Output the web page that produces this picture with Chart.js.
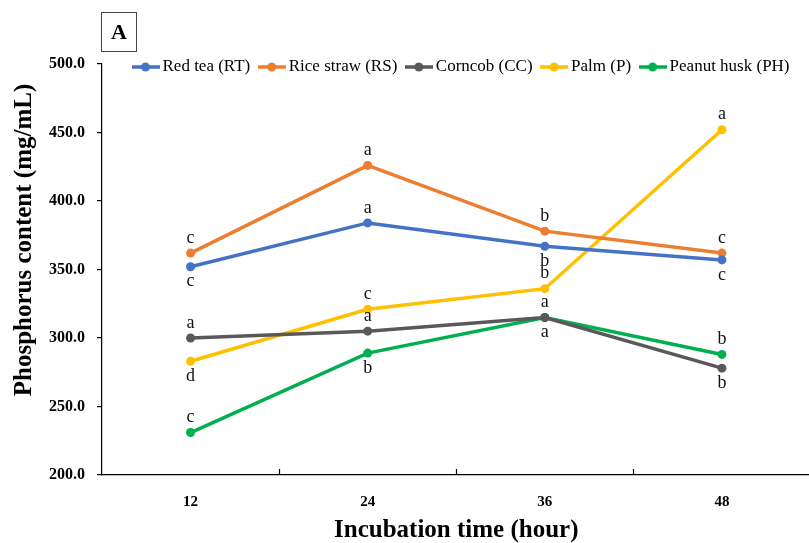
<!DOCTYPE html>
<html>
<head>
<meta charset="utf-8">
<script src="https://cdn.jsdelivr.net/npm/chart.js@4/dist/chart.umd.min.js"></script>
<style>
  html, body { margin: 0; padding: 0; background: #fff; overflow: hidden; }
  #wrap { position: absolute; left: 0; top: 0; width: 815px; height: 543px; }
</style>
</head>
<body>
<div id="wrap"><canvas id="phChart" width="815" height="543"></canvas></div>
<script>
// Data
const hours = ["12", "24", "36", "48"];
const seriesNames = ["Red tea (RT)", "Rice straw (RS)", "Corncob (CC)", "Palm (P)", "Peanut husk (PH)"];
const redTea = [352, 384, 367, 357];
const riceStraw = [362, 426, 378, 362];
const corncob = [300, 305, 315, 278];
const palm = [283, 321, 336, 452];
const peanutHusk = [231, 289, 315, 288];
const yTicks = [200, 250, 300, 350, 400, 450, 500];

// significance letters, and whether they sit above (1) or below (-1) the point
const letters = [
  ["c", "a", "b", "c"],
  ["c", "a", "b", "c"],
  ["a", "a", "a", "b"],
  ["d", "c", "b", "a"],
  ["c", "b", "a", "b"]
];
const letterSide = [
  [-1, 1, -1, -1],
  [1, 1, 1, 1],
  [1, 1, -1, -1],
  [-1, 1, 1, 1],
  [1, -1, 1, 1]
];

const colors = ["#4472C4", "#ED7D31", "#595959", "#FFC000", "#00B050"];
const serif = "'Liberation Serif', 'DejaVu Serif', serif";

// legend marker: short line with a dot
function makeMarker(color) {
  const c = document.createElement("canvas");
  c.width = 28;
  c.height = 10;
  const g = c.getContext("2d");
  g.strokeStyle = color;
  g.lineWidth = 3.5;
  g.beginPath();
  g.moveTo(0, 5);
  g.lineTo(28, 5);
  g.stroke();
  g.fillStyle = color;
  g.beginPath();
  g.arc(14, 5, 4.5, 0, Math.PI * 2);
  g.fill();
  return c;
}
const markers = colors.map(makeMarker);

const extras = {
  id: "extras",
  afterLayout(chart) {
    // place the legend row on the top edge of the plot, starting near x=137
    const lg = chart.legend;
    const pad = lg.options.labels.padding;
    const dy = 45.5 - lg.top;
    lg.top += dy;
    lg.bottom += dy;
    const start = (lg.left + pad + lg.right - lg.lineWidths[0]) / 2;
    const dx = 137 - start;
    lg.left += dx;
    lg.right += dx;
  },
  afterDatasetsDraw(chart) {
    const ctx = chart.ctx;
    ctx.save();
    ctx.font = "18px " + serif;
    ctx.fillStyle = "#111";
    ctx.textAlign = "center";
    ctx.textBaseline = "middle";
    letters.forEach(function (row, i) {
      const pts = chart.getDatasetMeta(i).data;
      row.forEach(function (txt, j) {
        const p = pts[j];
        ctx.fillText(txt, p.x, p.y - letterSide[i][j] * 15);
      });
    });
    ctx.restore();
  },
  afterDraw(chart) {
    const ctx = chart.ctx;
    const x = chart.scales.x;
    const area = chart.chartArea;
    ctx.save();
    // inward tick marks between categories
    ctx.strokeStyle = "#000";
    ctx.lineWidth = 1.2;
    for (let i = 0; i < hours.length - 1; i++) {
      const px = Math.round((x.getPixelForTick(i) + x.getPixelForTick(i + 1)) / 2) + 0.5;
      ctx.beginPath();
      ctx.moveTo(px, area.bottom);
      ctx.lineTo(px, area.bottom - 6);
      ctx.stroke();
    }
    // y axis title (sits a little above the axis middle in the original)
    ctx.fillStyle = "#000";
    ctx.font = "bold 25px " + serif;
    ctx.textAlign = "center";
    ctx.textBaseline = "middle";
    ctx.translate(25, 240);
    ctx.rotate(-Math.PI / 2);
    ctx.fillText("Phosphorus content (mg/mL)", 0, 0);
    ctx.setTransform(1, 0, 0, 1, 0, 0);
    // panel tag "A"
    ctx.strokeStyle = "#444";
    ctx.lineWidth = 1;
    ctx.strokeRect(101.5, 12.5, 35, 39);
    ctx.font = "bold 22px " + serif;
    ctx.fillText("A", 119, 33);
    ctx.restore();
  }
};

const seriesData = [redTea, riceStraw, corncob, palm, peanutHusk];

new Chart(document.getElementById("phChart"), {
  type: "line",
  data: {
    labels: hours,
    datasets: seriesData.map(function (vals, i) {
      return {
        label: seriesNames[i],
        data: vals,
        borderColor: colors[i],
        backgroundColor: colors[i],
        borderWidth: 3.5,
        pointRadius: 4.5,
        pointHoverRadius: 4.5,
        pointBorderWidth: 0,
        tension: 0
      };
    })
  },
  options: {
    responsive: false,
    animation: false,
    layout: { padding: { top: 24, right: 0, bottom: 0, left: 0 } },
    plugins: {
      tooltip: { enabled: false },
      legend: {
        position: "top",
        align: "center",
        labels: {
          usePointStyle: true,
          boxWidth: 20,
          padding: 13,
          color: "#000",
          font: { family: serif, size: 17 },
          generateLabels: function (chart) {
            const items = Chart.defaults.plugins.legend.labels.generateLabels(chart);
            items.forEach(function (it, i) {
              it.pointStyle = markers[i];
            });
            return items;
          }
        }
      }
    },
    scales: {
      x: {
        offset: true,
        afterFit: function (scale) { scale.height = 68; },
        grid: { display: false, offset: true },
        border: { color: "#000", width: 1.2 },
        ticks: {
          color: "#000",
          padding: 10,
          font: { family: serif, size: 15, weight: "bold" }
        },
        title: {
          display: true,
          text: "Incubation time (hour)",
          color: "#000",
          padding: { top: 10, bottom: -3 },
          font: { family: serif, size: 25, weight: "bold" }
        }
      },
      y: {
        min: 200,
        max: 500,
        afterFit: function (scale) { scale.width = 102; },
        afterBuildTicks: function (scale) {
          scale.ticks = yTicks.map(function (v) { return { value: v }; });
        },
        grid: { drawOnChartArea: false, color: "#000", tickLength: 5, lineWidth: 1.2 },
        border: { color: "#000", width: 1.2 },
        ticks: {
          color: "#000",
          padding: 12,
          font: { family: serif, size: 16, weight: "bold" },
          callback: function (v) { return Number(v).toFixed(1); }
        },
        title: { display: false }
      }
    }
  },
  plugins: [extras]
});
</script>
</body>
</html>
